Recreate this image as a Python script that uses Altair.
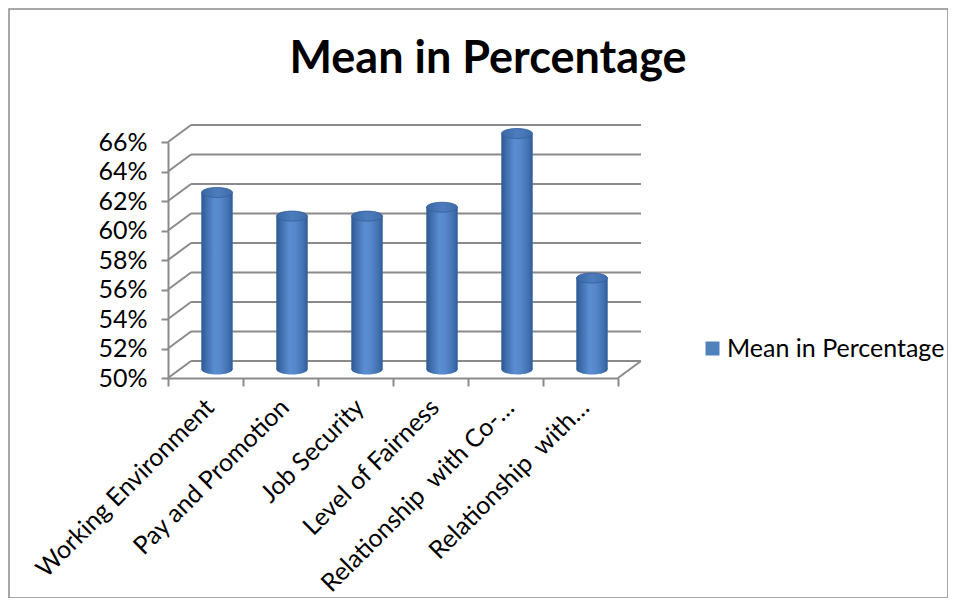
import altair as alt
import pandas as pd

# ---- data ----
categories = [
    "Working Environment",
    "Pay and Promotion",
    "Job Security",
    "Level of Fairness",
    "Relationship \u00a0with Co-…",
    "Relationship \u00a0with…",
]
values = [62.0, 60.4, 60.4, 61.0, 66.0, 56.2]
series_name = "Mean in Percentage"
tick_values = [50, 52, 54, 56, 58, 60, 62, 64, 66]
base_value = 50
chart_title = "Mean in Percentage"

df = pd.DataFrame({
    "category": categories,
    "value": values,
    "base": [base_value] * len(values),
    "series": [series_name] * len(values),
})
ticks_df = pd.DataFrame({"tick": tick_values})
one_df = pd.DataFrame({"k": [0]})

# ---- layout ----
W, H = 450, 236
DX, DY = 23, -17          # back wall depth offset
MX, MY = 11.5, -8.5       # middle plane (bars) offset
BAR_W = 31
GRID = "#8a8a8a"
FONT = "Lato"
FS = 25

y_scale = alt.Scale(domain=[tick_values[0], tick_values[-1]], zero=False, nice=False)
y_axis = alt.Axis(
    values=tick_values, labelExpr="datum.value + '%'", title=None, grid=False,
    domainColor=GRID, domainWidth=2, tickColor=GRID, tickWidth=2, tickSize=7,
    labelPadding=14, labelFontSize=FS, labelFont=FONT, labelColor="#000000",
    zindex=1,
)
x_scale = alt.Scale(paddingInner=0, paddingOuter=0)
x_axis = alt.Axis(
    title=None, labelAngle=-45, labelAlign="right", labelBaseline="middle",
    labelFontSize=FS, labelFont=FONT, labelColor="#000000", labelPadding=17,
    labelOffset=4, domainColor=GRID, domainWidth=2, tickColor=GRID, tickWidth=2,
    tickSize=8, tickBand="extent", labelLimit=400, zindex=1,
)
x_enc = alt.X("category:N", sort=categories, scale=x_scale, axis=x_axis)

base = alt.Chart(df)

frame = alt.Chart(one_df).mark_rect(fill="transparent", stroke=GRID, strokeWidth=1.5).encode(
    x=alt.value(-159), x2=alt.value(780), y=alt.value(-133), y2=alt.value(456)
)

back_grid = alt.Chart(ticks_df).mark_rule(color=GRID, strokeWidth=2, yOffset=DY).encode(
    x=alt.value(DX), x2=alt.value(W + DX),
    y=alt.Y("tick:Q", scale=y_scale, axis=y_axis),
)
side_diag = alt.Chart(ticks_df).mark_rule(color=GRID, strokeWidth=2, y2Offset=DY).encode(
    x=alt.value(0), x2=alt.value(DX),
    y=alt.Y("tick:Q", scale=y_scale, axis=y_axis), y2="tick:Q",
)
floor_right = alt.Chart(ticks_df).transform_filter(
    alt.datum.tick == tick_values[0]
).mark_rule(color=GRID, strokeWidth=2, y2Offset=DY).encode(
    x=alt.value(W), x2=alt.value(W + DX),
    y=alt.Y("tick:Q", scale=y_scale, axis=y_axis), y2="tick:Q",
)

body_grad = alt.LinearGradient(
    gradient="linear", x1=0, x2=1, y1=0, y2=0,
    stops=[
        alt.GradientStop(offset=0, color="#2d5891"),
        alt.GradientStop(offset=0.12, color="#3c6aa8"),
        alt.GradientStop(offset=0.42, color="#5a8dd1"),
        alt.GradientStop(offset=0.62, color="#5687cb"),
        alt.GradientStop(offset=0.88, color="#4170b0"),
        alt.GradientStop(offset=1, color="#2f5b94"),
    ],
)
cap_grad = alt.LinearGradient(
    gradient="linear", x1=0, x2=1, y1=0, y2=0,
    stops=[
        alt.GradientStop(offset=0, color="#3a67a3"),
        alt.GradientStop(offset=0.5, color="#4d7dbd"),
        alt.GradientStop(offset=1, color="#3f6dab"),
    ],
)

ry = 5.0 / (BAR_W / 2)
k = 0.5523
ellipse = (
    f"M -1 0 C -1 {-k*ry:.4f} {-k:.4f} {-ry:.4f} 0 {-ry:.4f} "
    f"C {k:.4f} {-ry:.4f} 1 {-k*ry:.4f} 1 0 "
    f"C 1 {k*ry:.4f} {k:.4f} {ry:.4f} 0 {ry:.4f} "
    f"C {-k:.4f} {ry:.4f} -1 {k*ry:.4f} -1 0 Z"
)
cap_size = BAR_W * BAR_W

solid_bars = base.mark_bar(width=BAR_W, xOffset=MX, yOffset=MY, y2Offset=MY).encode(
    x=x_enc,
    y=alt.Y("value:Q", scale=y_scale, axis=y_axis),
    y2="base:Q",
    color=alt.Color(
        "series:N",
        scale=alt.Scale(range=["#4f81bd"]),
        legend=alt.Legend(
            title=None, orient="none", legendX=532, legendY=194,
            symbolType="square", symbolSize=196, symbolStrokeWidth=0,
            labelFontSize=FS, labelFont=FONT, labelColor="#000000", labelOffset=2,
            labelLimit=400,
        ),
    ),
)
bottom_caps = base.mark_point(
    shape=ellipse, size=cap_size, filled=True, fill=body_grad, opacity=1,
    strokeWidth=0, xOffset=MX, yOffset=MY,
).encode(x=x_enc, y=alt.Y("base:Q", scale=y_scale, axis=y_axis))
grad_bars = base.mark_bar(
    width=BAR_W, xOffset=MX, yOffset=MY, y2Offset=MY, fill=body_grad
).encode(
    x=x_enc,
    y=alt.Y("value:Q", scale=y_scale, axis=y_axis),
    y2="base:Q",
)
top_caps = base.mark_point(
    shape=ellipse, size=cap_size, filled=True, fill=cap_grad, opacity=1,
    stroke="#35609a", strokeWidth=0.8, xOffset=MX, yOffset=MY,
).encode(x=x_enc, y=alt.Y("value:Q", scale=y_scale, axis=y_axis))

title = alt.Chart(one_df).mark_text(
    text=chart_title, font=FONT, fontSize=45, fontWeight="bold",
    align="center", baseline="alphabetic", color="#000000",
).encode(x=alt.value(320), y=alt.value(-69))

chart = alt.layer(
    frame, back_grid, side_diag, floor_right, solid_bars, bottom_caps, grad_bars, top_caps, title
).properties(
    width=W, height=H,
    padding={"left": 160, "top": 134, "right": 330, "bottom": 220},
    autosize=alt.AutoSizeParams(type="none"),
).configure(background="white").configure_view(stroke=None)

chart.save("out.html", embed_options={"renderer": "svg", "actions": False})
